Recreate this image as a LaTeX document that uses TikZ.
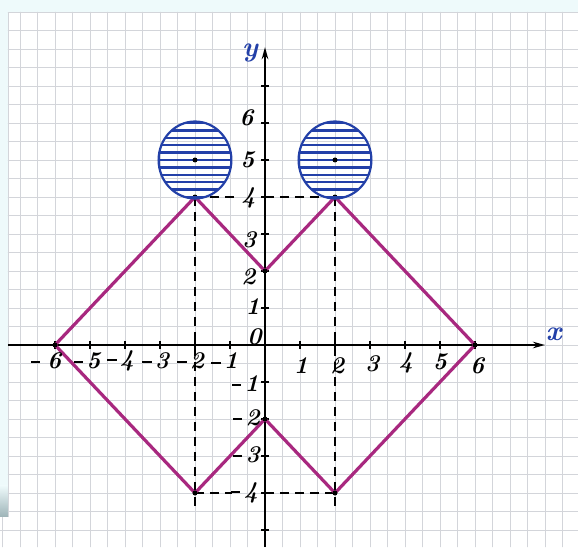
\documentclass[tikz,border=0pt]{standalone}
\usepackage{fontspec}
\usetikzlibrary{arrows.meta}
\definecolor{bgcyan}{HTML}{EEFAFB}
\definecolor{stripgray}{HTML}{9DB3B7}
\definecolor{gridc}{HTML}{D3D5DA}
\definecolor{magc}{HTML}{A8287F}
\definecolor{bluec}{HTML}{2340A8}
\newcommand{\mns}{\raisebox{0.22em}{\rule{0.38em}{2pt}}\hspace{0.14em}}
\begin{document}
\begin{tikzpicture}[x=35pt,y=37pt,
  gridline/.style={draw=gridc,line width=0.7pt},
  axisline/.style={draw=black,line width=2.2pt},
  tick/.style={draw=black,line width=1.4pt},
  graphline/.style={draw=magc,line width=3.2pt,line join=round},
  helpline/.style={draw=black,line width=1.1pt,dash pattern=on 9pt off 6pt},
  numlbl/.style={font=\fontsize{24pt}{24pt}\selectfont\bfseries\itshape,inner sep=0pt},
  axlbl/.style={font=\fontsize{28pt}{28pt}\selectfont\bfseries\itshape,text=bluec,inner sep=0pt},
  dot/.style={circle,fill=black,inner sep=0pt,minimum size=5pt},
  ring/.style={draw=bluec,line width=2.2pt},
  hatch/.style={draw=bluec,line width=2.5pt}]
% frame and paper
\useasboundingbox (-7.5714,-5.4595) rectangle (8.9429,9.3243);
\fill[bgcyan] (-7.5714,-5.4595) rectangle (8.9429,9.3243);
\shade[top color=bgcyan,bottom color=stripgray] (-7.5714,-3.8) rectangle (-7.343,-4.649);
\fill[white] (-7.343,-5.4595) rectangle (8.9429,9.0);
\fill[white] (-7.5714,-5.4595) rectangle (-7.343,-4.649);
% grid paper
\begin{scope}
  \clip (-7.343,-4.649) -- (-7.343,9.0) -- (8.9429,9.0) -- (8.9429,-5.4595)
        -- (-7.5714,-5.4595) -- (-7.5714,-4.649) -- cycle;
  \foreach \gx in {-7.5,-7,...,9} \draw[gridline] (\gx,-5.6) -- (\gx,9.1);
  \foreach \gy in {-5.5,-5,...,9} \draw[gridline] (-7.6,\gy) -- (9,\gy);
  \draw[gridline] (-7.343,-4.649) -- (-7.343,9.0);
\end{scope}
% named points
\coordinate (A) at (-6,0);
\coordinate (B) at (-2,4);
\coordinate (C) at (0,2);
\coordinate (D) at (2,4);
\coordinate (E) at (6,0);
\coordinate (F) at (2,-4);
\coordinate (G) at (0,-2);
\coordinate (H) at (-2,-4);
\coordinate (Bd) at (-2,-4.51);
\coordinate (Dd) at (2,-4.51);
\coordinate (Bl) at (-0.72,4);
\coordinate (Br) at (0,4);
\coordinate (Hl) at (-0.95,-4);
\coordinate (Hr) at (0,-4);
\coordinate (xs) at (-7.343,0);
\coordinate (xe) at (8.0,0);
\coordinate (ys) at (0,-5.4595);
\coordinate (ye) at (0,8.05);
\coordinate (c1) at (-2,5);
\coordinate (c2) at (2,5);
% dashed helper lines
\draw[helpline] (B) -- (Bd);
\draw[helpline] (D) -- (Dd);
\draw[helpline] (B) -- (Bl);
\draw[helpline] (Br) -- (D);
\draw[helpline] (H) -- (Hl);
\draw[helpline] (Hr) -- (F);
% axes
\draw[axisline,-{Stealth[length=12pt,width=6.5pt]}] (xs) -- (xe);
\draw[axisline,-{Stealth[length=12pt,width=6.5pt]}] (ys) -- (ye);
\foreach \t in {-6,...,-1,1,2,...,6} \draw[tick] (\t,-0.11) -- (\t,0.11);
\foreach \t in {-5,...,-1,1,2,...,7} \draw[tick] (-0.11,\t) -- (0.11,\t);
% graph
\draw[graphline] (A) -- (B) -- (C) -- (D) -- (E) -- (F) -- (G) -- (H) -- cycle;
\foreach \p in {A,B,C,D,E,F,G,H} \node[dot] at (\p) {};
% hatched circles
\foreach \c in {c1,c2} {
  \begin{scope}
    \clip (\c) ellipse [x radius=1.04, y radius=1.04];
    \foreach \k in {-5,...,5} \draw[hatch] ([shift={(-1.2,\k*0.2)}]\c) -- ([shift={(1.2,\k*0.2)}]\c);
  \end{scope}
  \draw[ring] (\c) ellipse [x radius=1.04, y radius=1.04];
  \node[dot] at (\c) {};
}
% axis labels
\node[axlbl] (lx) at (8.25,0.3) {x};
\node[axlbl] (ly) at (-0.43,7.9) {y};
% y labels
\node[numlbl] (y6) at (-0.53,6.13) {6};
\node[numlbl] (y5) at (-0.5,5.0) {5};
\node[numlbl] (y4) at (-0.47,3.97) {4};
\node[numlbl] (y3) at (-0.45,2.84) {3};
\node[numlbl] (y2) at (-0.47,1.84) {2};
\node[numlbl] (y1) at (-0.35,1.03) {1};
\node[numlbl] (y0) at (-0.3,0.22) {0};
\node[numlbl] (ym1) at (-0.56,-1.03) {\mns1};
\node[numlbl] (ym2) at (-0.53,-1.97) {\mns2};
\node[numlbl] (ym3) at (-0.53,-2.97) {\mns3};
\node[numlbl] (ym4) at (-0.58,-4.0) {\mns4};
% x labels
\node[numlbl] (xm6) at (-6.25,-0.43) {\mns\hspace{0.15em}6};
\node[numlbl] (xm5) at (-5.08,-0.43) {\mns5};
\node[numlbl] (xm4) at (-4.12,-0.43) {\mns4};
\node[numlbl] (xm3) at (-3.12,-0.43) {\mns3};
\node[numlbl] (xm2) at (-2.12,-0.43) {\mns2};
\node[numlbl] (xm1) at (-1.15,-0.43) {\mns1};
\node[numlbl] (x1) at (1.03,-0.56) {1};
\node[numlbl] (x2) at (2.06,-0.56) {2};
\node[numlbl] (x3) at (3.06,-0.52) {3};
\node[numlbl] (x4) at (4.03,-0.49) {4};
\node[numlbl] (x5) at (5.0,-0.44) {5};
\node[numlbl] (x6) at (6.06,-0.56) {6};
\end{tikzpicture}
\end{document}
